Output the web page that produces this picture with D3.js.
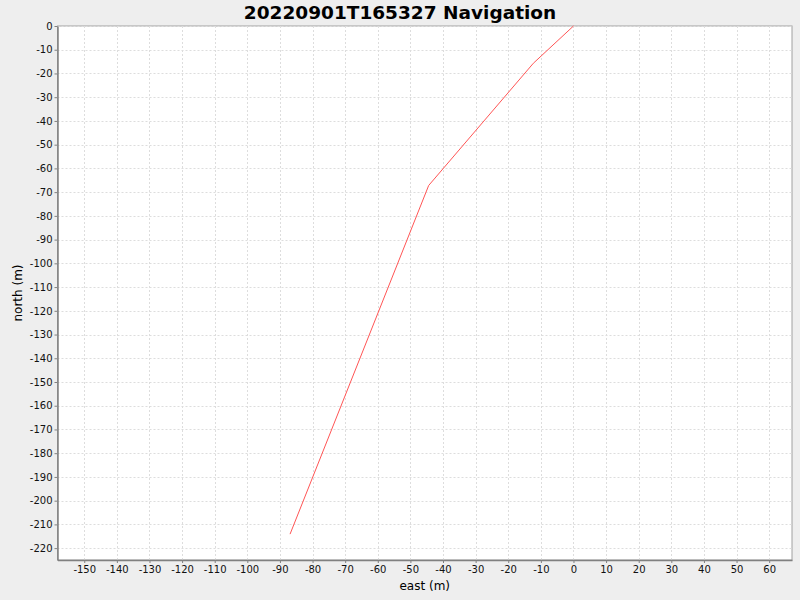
<!DOCTYPE html>
<html lang="en">
<head>
	<meta charset="utf-8">
	<title>20220901T165327 Navigation</title>
	<script src="https://d3js.org/d3.v7.min.js"></script>
	<style>
		body { margin: 0; background: #eeeeee; }
		text { font-family: "DejaVu Sans", sans-serif; }
	</style>
</head>
<body>
	<script>
		// track points, east / north in metres
		var eastVals = [0, -12.3, -44.4, -86.9];
		var northVals = [0, -15.7, -67.2, -214.1];
		var xTicks = d3.range(-150, 61, 10);
		var yTicks = d3.range(-220, 1, 10);
		var titleText = "20220901T165327 Navigation";

		var w = 800, h = 600;
		// plot area (don't use "top", it's window.top)
		var pLeft = 57.5, pRight = 792, pTop = 26, pBottom = 560;

		var svg = d3.select("body").append("svg")
			.attr("width", w)
			.attr("height", h);

		svg.append("rect").attr("width", w).attr("height", h).attr("fill", "#eeeeee");

		var x = d3.scaleLinear().domain([-158.2, 67]).range([pLeft, pRight]);
		var y = d3.scaleLinear().domain([-225, 0]).range([pBottom, pTop]);

		svg.append("rect")
			.attr("x", pLeft).attr("y", pTop)
			.attr("width", pRight - pLeft).attr("height", pBottom - pTop)
			.attr("fill", "white")
			.attr("stroke", "#a0a0a0")
			.attr("stroke-width", 1);

		// grid
		svg.append("g").selectAll("line").data(xTicks).enter().append("line")
			.attr("x1", function(d) { return Math.round(x(d)) + 0.5; })
			.attr("x2", function(d) { return Math.round(x(d)) + 0.5; })
			.attr("y1", pTop).attr("y2", pBottom)
			.attr("stroke", "#dddddd").attr("stroke-dasharray", "2,2");
		svg.append("g").selectAll("line").data(yTicks).enter().append("line")
			.attr("y1", function(d) { return Math.round(y(d)) + 0.5; })
			.attr("y2", function(d) { return Math.round(y(d)) + 0.5; })
			.attr("x1", pLeft).attr("x2", pRight)
			.attr("stroke", "#dddddd").attr("stroke-dasharray", "2,2");

		// axes - plain hyphen minus like the original
		var fmt = function(d) { return String(d); };
		var xAxis = d3.axisBottom(x).tickValues(xTicks).tickFormat(fmt).tickSizeInner(3).tickSizeOuter(0).tickPadding(3);
		var yAxis = d3.axisLeft(y).tickValues(yTicks).tickFormat(fmt).tickSizeInner(3).tickSizeOuter(0).tickPadding(2);

		var gx = svg.append("g").attr("transform", "translate(0," + pBottom + ")").call(xAxis);
		var gy = svg.append("g").attr("transform", "translate(" + pLeft + ",0)").call(yAxis);

		[gx, gy].forEach(function(g) {
			g.select(".domain").attr("stroke", "#808080").attr("stroke-width", 1.5);
			g.selectAll(".tick line").attr("stroke", "#808080");
			g.selectAll(".tick text")
				.attr("fill", "#111")
				.style("font-family", "'DejaVu Sans', sans-serif")
				.style("font-size", "10px");
		});

		// track line
		var line = d3.line()
			.x(function(d, i) { return x(eastVals[i]); })
			.y(function(d, i) { return y(northVals[i]); });

		svg.append("path")
			.datum(eastVals)
			.attr("d", line)
			.attr("fill", "none")
			.attr("stroke", "#ff5555")
			.attr("stroke-width", 1);

		// title + labels
		svg.append("text")
			.attr("x", 400).attr("y", 18.5)
			.attr("text-anchor", "middle")
			.style("font-size", "18.5px")
			.style("font-weight", "bold")
			.text(titleText);

		svg.append("text")
			.attr("x", (pLeft + pRight) / 2).attr("y", 590)
			.attr("text-anchor", "middle")
			.style("font-size", "12px")
			.text("east (m)");

		svg.append("text")
			.attr("text-anchor", "middle")
			.attr("transform", "translate(22," + ((pTop + pBottom) / 2) + ") rotate(-90)")
			.style("font-size", "12px")
			.text("north (m)");
	</script>
</body>
</html>
